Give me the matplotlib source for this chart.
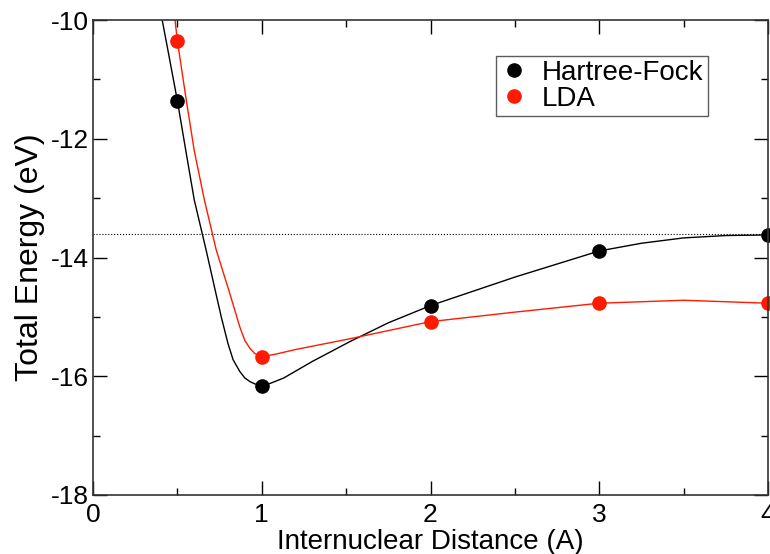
import matplotlib
matplotlib.use("Agg")
import matplotlib.pyplot as plt
from matplotlib.ticker import MultipleLocator

plt.rcParams['font.family'] = ['Liberation Sans', 'DejaVu Sans']
plt.rcParams['axes.unicode_minus'] = False

# data points
dist = [0.5, 1.0, 2.0, 3.0, 4.0]
hf_energy = [-11.36, -16.16, -14.81, -13.89, -13.62]
lda_energy = [-10.35, -15.67, -15.08, -14.77, -14.77]

# fitted curves as they appear in the chart
hf_curve_x = [0.41, 0.45, 0.5, 0.55, 0.6, 0.67, 0.72, 0.76, 0.8, 0.83, 0.87, 0.9,
              0.93, 0.96, 1.0, 1.05, 1.13, 1.3, 1.52, 1.75, 2.0, 2.5, 3.0, 3.25,
              3.5, 3.75, 4.0]
hf_curve_y = [-10.0, -10.6, -11.36, -12.2, -13.03, -13.87, -14.5, -15.0, -15.45,
              -15.72, -15.92, -16.03, -16.09, -16.13, -16.16, -16.12, -16.03,
              -15.75, -15.42, -15.1, -14.81, -14.33, -13.89, -13.76, -13.67,
              -13.63, -13.62]
lda_curve_x = [0.486, 0.5, 0.55, 0.6, 0.66, 0.73, 0.81, 0.87, 0.9, 0.93, 0.96,
               1.0, 1.08, 1.2, 1.52, 2.0, 2.5, 3.0, 3.5, 4.0]
lda_curve_y = [-10.0, -10.35, -11.3, -12.2, -13.03, -13.87, -14.6, -15.17, -15.4,
               -15.53, -15.62, -15.67, -15.63, -15.55, -15.37, -15.08, -14.92,
               -14.77, -14.72, -14.77]

atom_limit = -13.6

fig = plt.figure(figsize=(7.7, 5.54), dpi=100)
ax = fig.add_axes([93 / 770, 59 / 554, 675 / 770, 475 / 554])

ax.axhline(atom_limit, color='black', linestyle=':', linewidth=0.8)
ax.plot(hf_curve_x, hf_curve_y, color='black', linewidth=1.0)
ax.plot(lda_curve_x, lda_curve_y, color='#ff1a00', linewidth=1.0)
ax.plot(dist, hf_energy, 'o', color='black', markersize=9.5, label='Hartree-Fock', clip_on=False)
ax.plot(dist, lda_energy, 'o', color='#ff1a00', markersize=9.5, label='LDA', clip_on=False)

ax.set_xlim(0, 4)
ax.set_ylim(-18, -10)
ax.xaxis.set_major_locator(MultipleLocator(1))
ax.xaxis.set_minor_locator(MultipleLocator(0.5))
ax.yaxis.set_major_locator(MultipleLocator(2))
ax.yaxis.set_minor_locator(MultipleLocator(1))
ax.tick_params(which='both', direction='in', top=True, right=True, width=1.0)
ax.tick_params(which='major', length=10, labelsize=19, pad=3)
ax.tick_params(axis='x', which='major', pad=6)
ax.tick_params(which='minor', length=5)
for s in ax.spines.values():
    s.set_linewidth(1.2)
    s.set_color('#333333')

ax.set_xlabel('Internuclear Distance (A)', fontsize=20, labelpad=1)
ax.set_ylabel('Total Energy (eV)', fontsize=23, labelpad=4)

leg = ax.legend(loc='upper left', bbox_to_anchor=(0.597, 0.925), fontsize=20,
                frameon=True, fancybox=False, handlelength=1.0, handletextpad=0.5,
                borderpad=0.15, labelspacing=0.0, borderaxespad=0)
leg.get_frame().set_edgecolor('#333333')
leg.get_frame().set_linewidth(1.0)

fig.savefig('out.png', dpi=100)
